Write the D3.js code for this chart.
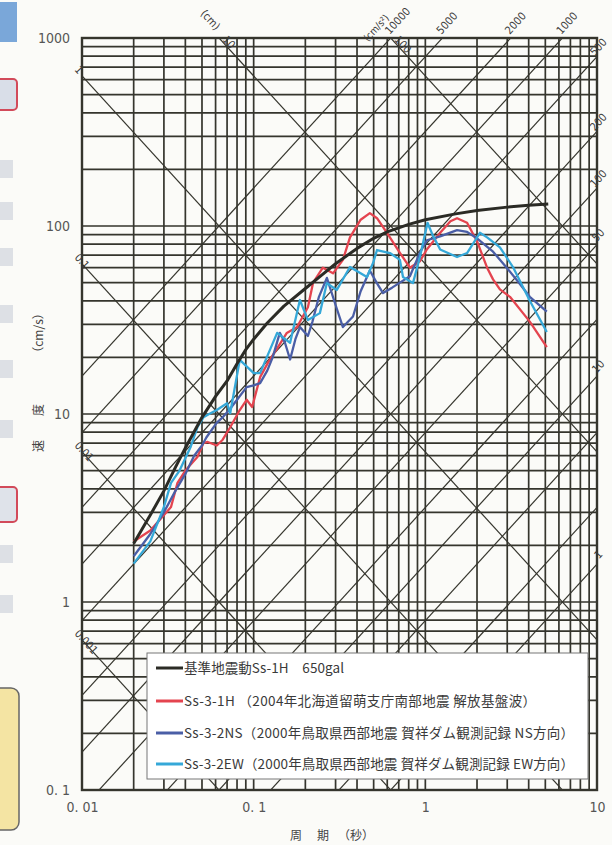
<!DOCTYPE html>
<html>
<head>
<meta charset="utf-8">
<script src="https://cdn.jsdelivr.net/npm/d3@7"></script>
<style>
  body { margin: 0; background: #fbfbf8; }
  svg { display: block; }
</style>
</head>
<body>
<script>
// Achsen
const xTicks = [0.01, 0.1, 1, 10]
const xTickLabels = ['0. 01', '0. 1', '1', '10']
const yTicks = [0.1, 1, 10, 100, 1000]
const yTickLabels = ['0. 1', '1', '10', '100', '1000']

// Hilfslinien: Beschleunigung (cm/s2) und Verschiebung (cm)
const accelValues = [1, 2, 5, 10, 20, 50, 100, 200, 500, 1000, 2000, 5000, 10000]
const accelTopLabels = [10000, 5000, 2000, 1000]
const accelRightLabels = [500, 200, 100, 50, 10, 1]
const dispValues = [0.001, 0.01, 0.1, 1, 10, 100]
const dispLeftLabels = [0.001, 0.01, 0.1, 1]
const dispTopLabels = [10, 100]

// Kurven (Periode s, Geschwindigkeit cm/s)
const ss1hT = [0.02, 0.025, 0.03, 0.035, 0.04, 0.05, 0.06, 0.07, 0.08, 0.09, 0.1, 0.12, 0.15, 0.2, 0.25, 0.3, 0.4, 0.5, 0.6, 0.8, 1.0, 1.5, 2, 3, 4, 5.2]
const ss1hV = [2.05, 2.9, 3.9, 5.2, 6.6, 9.6, 12.4, 15.0, 18.5, 22.0, 25.0, 30.5, 37.5, 46.5, 55, 63, 76, 86, 93, 102, 108, 116, 121, 126, 129, 131]

const ss31hT = [0.02, 0.025, 0.033, 0.036, 0.04, 0.047, 0.051, 0.054, 0.061, 0.066, 0.073, 0.083, 0.091, 0.098, 0.109, 0.121, 0.14, 0.156, 0.179, 0.207, 0.222, 0.253, 0.29, 0.331, 0.364, 0.42, 0.475, 0.523, 0.598, 0.711, 0.813, 0.93, 1.02, 1.22, 1.4, 1.53, 1.75, 2.0, 2.29, 2.48, 2.72, 3.11, 4.06, 5.1]
const ss31hV = [2.1, 2.4, 3.2, 4.3, 5.0, 5.9, 7.0, 7.1, 6.8, 7.3, 8.5, 10.5, 11.9, 10.9, 15.7, 18.7, 23, 27, 29, 37, 50, 60, 56, 66, 87, 108, 117, 110, 92, 72, 60, 65, 75, 92, 106, 110, 104, 83, 60, 52, 46, 42, 31, 22.7]

const ss32nsT = [0.02, 0.025, 0.03, 0.035, 0.04, 0.045, 0.05, 0.053, 0.061, 0.066, 0.072, 0.08, 0.091, 0.1, 0.109, 0.12, 0.129, 0.142, 0.152, 0.163, 0.175, 0.186, 0.207, 0.22, 0.24, 0.267, 0.3, 0.331, 0.379, 0.42, 0.475, 0.52, 0.567, 0.64, 0.711, 0.813, 0.93, 1.02, 1.22, 1.53, 1.75, 2.0, 2.48, 2.98, 3.5, 4.06, 5.1]
const ss32nsV = [1.75, 2.3, 3.0, 3.9, 4.8, 6.0, 6.8, 7.5, 9.0, 9.6, 10.5, 11.9, 13.9, 14.2, 14.6, 17, 20, 27, 24, 19.5, 25, 29, 26, 31, 42, 53, 38, 29, 33, 45, 58, 50, 44, 47, 50, 54, 72, 84, 88, 95, 93, 86, 73, 60, 50, 42, 35]

const ss32ewT = [0.02, 0.025, 0.03, 0.033, 0.037, 0.043, 0.047, 0.051, 0.055, 0.061, 0.07, 0.073, 0.083, 0.1, 0.109, 0.137, 0.163, 0.186, 0.207, 0.243, 0.267, 0.305, 0.364, 0.457, 0.496, 0.523, 0.622, 0.711, 0.741, 0.847, 0.93, 1.03, 1.1, 1.22, 1.53, 1.75, 2.08, 2.29, 2.72, 3.24, 4.06, 5.1]
const ss32ewV = [1.6, 2.1, 3.2, 4.3, 5.0, 6.7, 8.5, 9.6, 10.0, 10.5, 11.4, 10.1, 19.4, 16.5, 16.5, 27, 23.9, 40.4, 31.6, 34.4, 49.7, 45.7, 60.5, 53.5, 63.5, 74.5, 71.8, 66, 53.5, 49.7, 68.4, 104, 90, 75, 68.4, 71.8, 92, 87, 77, 60.5, 40, 27.3]

const seriesNames = [
	'基準地震動Ss-1H　650gal',
	'Ss-3-1H （2004年北海道留萌支庁南部地震 解放基盤波）',
	'Ss-3-2NS（2000年鳥取県西部地震 賀祥ダム観測記録 NS方向）',
	'Ss-3-2EW（2000年鳥取県西部地震 賀祥ダム観測記録 EW方向）'
]
const seriesColors = ['#2b2b25', '#e4444f', '#4a5ea6', '#35a8d8']

const series = [
	{ T: ss1hT, V: ss1hV },
	{ T: ss31hT, V: ss31hV },
	{ T: ss32nsT, V: ss32nsV },
	{ T: ss32ewT, V: ss32ewV }
].map((s, i) => ({ name: seriesNames[i], color: seriesColors[i], pts: s.T.map((t, j) => [t, s.V[j]]) }))

const width = 612
const height = 845
const plot = { left: 82, right: 597, top: 38, bottom: 790 }
const gridColor = '#35352d'
const numFont = "'Liberation Sans Narrow', 'DejaVu Sans Condensed', 'Liberation Sans', sans-serif"
const jpFont = "'Noto Sans CJK JP', sans-serif"

const svg = d3.select('body').append('svg').attr('width', width).attr('height', height)

// Reste der Seite links
const deco = svg.append('g')
deco.append('rect').attr('x', 0).attr('y', 2).attr('width', 17).attr('height', 40).attr('fill', '#7aa7d9')
deco.append('rect').attr('x', -6).attr('y', 79).attr('width', 23).attr('height', 31).attr('rx', 4)
	.attr('fill', '#d9dee8').attr('stroke', '#d24a5a').attr('stroke-width', 2)
deco.append('rect').attr('x', -6).attr('y', 487).attr('width', 23).attr('height', 35).attr('rx', 4)
	.attr('fill', '#dfe3ea').attr('stroke', '#d24a5a').attr('stroke-width', 2)
deco.append('rect').attr('x', -10).attr('y', 688).attr('width', 29).attr('height', 142).attr('rx', 8)
	.attr('fill', '#f4e4a3').attr('stroke', '#666').attr('stroke-width', 1.5)
;[160, 202, 248, 305, 360, 420, 545, 595].forEach(yy => {
	deco.append('rect').attr('x', 0).attr('y', yy).attr('width', 13).attr('height', 18)
		.attr('fill', '#c9ced8').attr('opacity', 0.6)
})

const x = d3.scaleLog().domain([0.01, 10]).range([plot.left, plot.right])
const y = d3.scaleLog().domain([0.1, 1000]).range([plot.bottom, plot.top])

svg.append('clipPath').attr('id', 'clip').append('rect')
	.attr('x', plot.left).attr('y', plot.top)
	.attr('width', plot.right - plot.left).attr('height', plot.bottom - plot.top)

const g = svg.append('g')

// Gitter
const xGrid = []
;[0.01, 0.1, 1].forEach(d => { for (let k = 1; k <= 9; k++) xGrid.push(k * d) })
xGrid.push(10)
const yGrid = []
;[0.1, 1, 10, 100].forEach(d => { for (let k = 1; k <= 9; k++) yGrid.push(k * d) })
yGrid.push(1000)

g.selectAll('.vgrid').data(xGrid).join('line').attr('class', 'vgrid')
	.attr('x1', d => x(d)).attr('x2', d => x(d))
	.attr('y1', plot.top).attr('y2', plot.bottom)
	.attr('stroke', gridColor).attr('stroke-width', 1.7)
g.selectAll('.hgrid').data(yGrid).join('line').attr('class', 'hgrid')
	.attr('y1', d => y(d)).attr('y2', d => y(d))
	.attr('x1', plot.left).attr('x2', plot.right)
	.attr('stroke', gridColor).attr('stroke-width', 1.7)

// schräge Linien
const diag = g.append('g').attr('clip-path', 'url(#clip)')
const accelSv = (a, t) => a * t / (2 * Math.PI)
const dispSv = (dd, t) => 2 * Math.PI * dd / t
diag.selectAll('.acc').data(accelValues).join('line').attr('class', 'acc')
	.attr('x1', x(0.01)).attr('y1', d => y(accelSv(d, 0.01)))
	.attr('x2', x(10)).attr('y2', d => y(accelSv(d, 10)))
	.attr('stroke', gridColor).attr('stroke-width', 1.2)
diag.selectAll('.disp').data(dispValues).join('line').attr('class', 'disp')
	.attr('x1', x(0.01)).attr('y1', d => y(dispSv(d, 0.01)))
	.attr('x2', x(10)).attr('y2', d => y(dispSv(d, 10)))
	.attr('stroke', gridColor).attr('stroke-width', 1.2)

// Rahmen
g.append('rect').attr('x', plot.left).attr('y', plot.top)
	.attr('width', plot.right - plot.left).attr('height', plot.bottom - plot.top)
	.attr('fill', 'none').attr('stroke', gridColor).attr('stroke-width', 2.4)

// Beschriftung der schrägen Linien
const ang = Math.atan((y(1) - y(10)) / (x(10) - x(1))) * 180 / Math.PI
const lab = svg.append('g').attr('font-family', numFont).attr('font-size', 11).attr('fill', '#3a3a3a')
const fmt = d => String(d)

dispLeftLabels.forEach(d => {
	lab.append('text').attr('transform', `translate(${plot.left - 8},${y(dispSv(d, 0.01)) - 6}) rotate(${ang})`).text(fmt(d))
})
dispTopLabels.forEach(d => {
	lab.append('text').attr('transform', `translate(${x(2 * Math.PI * d / 1000) + 3},${plot.top + 2}) rotate(${ang})`).text(fmt(d))
})
lab.append('text').attr('transform', `translate(200,14) rotate(${ang})`).text('(cm)')

accelTopLabels.forEach(d => {
	lab.append('text').attr('transform', `translate(${x(2 * Math.PI * 1000 / d) - 1},${plot.top - 3}) rotate(${-ang})`).text(fmt(d))
})
lab.append('text').attr('font-size', 10).attr('transform', `translate(368,42) rotate(${-ang})`).text('(cm/s²)')
accelRightLabels.forEach(d => {
	lab.append('text').attr('text-anchor', 'middle')
		.attr('transform', `translate(${plot.right + 4},${y(accelSv(d, 10)) - 7}) rotate(${-ang})`).text(fmt(d))
})

// Kurven
const line = d3.line().x(d => x(d[0])).y(d => y(d[1]))
const curves = svg.append('g')
series.slice(1).forEach(s => {
	curves.append('path').attr('d', line(s.pts)).attr('fill', 'none')
		.attr('stroke', s.color).attr('stroke-width', 2.3).attr('stroke-linejoin', 'round')
})
curves.append('path').attr('d', line(series[0].pts)).attr('fill', 'none')
	.attr('stroke', series[0].color).attr('stroke-width', 3).attr('stroke-linejoin', 'round')

// Achsen
const yAxis = d3.axisLeft(y).tickValues(yTicks).tickFormat((d, i) => yTickLabels[i]).tickSize(0).tickPadding(12)
const xAxis = d3.axisBottom(x).tickValues(xTicks).tickFormat((d, i) => xTickLabels[i]).tickSize(0).tickPadding(12)
const gy = svg.append('g').attr('transform', `translate(${plot.left},0)`).call(yAxis)
const gx = svg.append('g').attr('transform', `translate(0,${plot.bottom})`).call(xAxis)
;[gx, gy].forEach(a => {
	a.select('.domain').remove()
	a.selectAll('text').attr('font-family', numFont).attr('font-size', 14).attr('fill', '#555')
})

// Achsentitel
const titles = svg.append('g').attr('font-family', jpFont).attr('font-size', 12).attr('fill', '#444')
titles.append('text').attr('x', 296).attr('y', 840).attr('text-anchor', 'middle').text('周')
titles.append('text').attr('x', 323).attr('y', 840).attr('text-anchor', 'middle').text('期')
titles.append('text').attr('x', 356).attr('y', 840).attr('text-anchor', 'middle').text('（秒）')
titles.append('text').attr('transform', 'translate(43,446) rotate(-90)').attr('text-anchor', 'middle').text('速')
titles.append('text').attr('transform', 'translate(43,410) rotate(-90)').attr('text-anchor', 'middle').text('度')
titles.append('text').attr('transform', 'translate(43,333) rotate(-90)').attr('text-anchor', 'middle').text('（cm/s）')

// Legende
const legend = svg.append('g')
legend.append('rect').attr('x', 147).attr('y', 653).attr('width', 441).attr('height', 126)
	.attr('fill', '#fff').attr('stroke', '#777').attr('stroke-width', 1)
const rowY = [668, 701, 733, 764]
const rowLen = [160, 352, 390, 390]
series.forEach((s, i) => {
	legend.append('line').attr('x1', 156).attr('x2', 183).attr('y1', rowY[i]).attr('y2', rowY[i])
		.attr('stroke', s.color).attr('stroke-width', 3)
	legend.append('text').attr('x', 184).attr('y', rowY[i]).attr('dy', '0.36em')
		.attr('textLength', rowLen[i]).attr('lengthAdjust', 'spacing')
		.attr('font-family', jpFont).attr('font-size', 13.5).attr('fill', '#3a3a3a').text(s.name)
})
</script>
</body>
</html>
